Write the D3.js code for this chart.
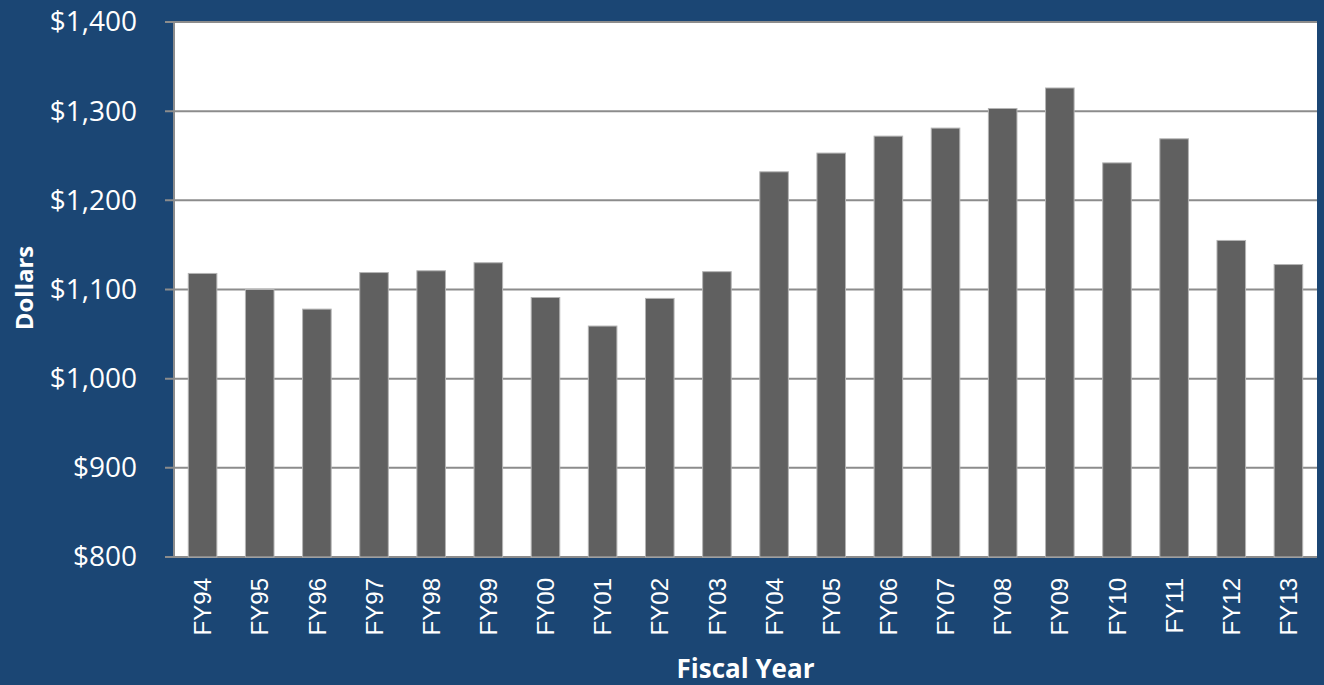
<!DOCTYPE html>
<html lang="en"><head>
<meta charset="utf-8">
<title>Dollars by Fiscal Year</title>
<script src="https://cdn.jsdelivr.net/npm/d3@7"></script>
<style>
  body { margin: 0; background: #1b4674; }
</style>
</head>
<body>
<script type="text/javascript">

var width = 1324;
var height = 685;

// data
var years = ["FY94", "FY95", "FY96", "FY97", "FY98", "FY99", "FY00", "FY01", "FY02", "FY03",
             "FY04", "FY05", "FY06", "FY07", "FY08", "FY09", "FY10", "FY11", "FY12", "FY13"];
var dollars = [1118, 1100, 1078, 1119, 1121, 1130, 1091, 1059, 1090, 1120,
               1232, 1253, 1272, 1281, 1303, 1326, 1242, 1269, 1155, 1128];
var yTicks = [800, 900, 1000, 1100, 1200, 1300, 1400];

var margin = {top: 22, right: 7, bottom: 128, left: 174};

var svg = d3.select("body").append("svg")
            .attr("width", width)
            .attr("height", height)
            .style("display", "block");

svg.append("rect")
    .attr("width", width)
    .attr("height", height)
    .attr("fill", "#1b4674");

var x = d3.scaleBand()
    .domain(years)
    .range([margin.left, width - margin.right])
    .paddingInner(0.5)
    .paddingOuter(0.25);

var y = d3.scaleLinear()
    .domain([800, 1400])
    .range([height - margin.bottom, margin.top]);

// plot area
svg.append("rect")
    .attr("x", margin.left)
    .attr("y", margin.top)
    .attr("width", width - margin.right - margin.left)
    .attr("height", height - margin.bottom - margin.top)
    .attr("fill", "#ffffff");

// gridlines
svg.append("g")
    .selectAll("line")
    .data(yTicks)
    .enter()
    .append("line")
    .attr("x1", margin.left - 9)
    .attr("x2", width - margin.right)
    .attr("y1", (d) => y(d))
    .attr("y2", (d) => y(d))
    .attr("stroke", "#8c8c8c")
    .attr("stroke-width", 2);

// bars
svg.append("g")
    .selectAll("rect")
    .data(dollars)
    .enter()
    .append("rect")
    .attr("x", (d, i) => x(years[i]))
    .attr("y", (d) => y(d))
    .attr("width", x.bandwidth())
    .attr("height", (d) => y(800) - y(d))
    .attr("fill", "#606060")
    .attr("stroke", "#b4b4b4")
    .attr("stroke-width", 1);

// left axis line
svg.append("line")
    .attr("x1", margin.left)
    .attr("x2", margin.left)
    .attr("y1", margin.top)
    .attr("y2", height - margin.bottom)
    .attr("stroke", "#8c8c8c")
    .attr("stroke-width", 2);

// y tick labels
var yAxis = svg.append("g")
    .attr("transform", "translate(" + margin.left + ",0)")
    .call(d3.axisLeft(y).tickValues(yTicks).tickSize(0).tickPadding(37)
        .tickFormat((d) => "$" + d3.format(",")(d)));
yAxis.select(".domain").remove();
yAxis.selectAll("text")
    .attr("fill", "#ffffff")
    .style("font-family", "'Open Sans', sans-serif")
    .style("font-size", "28px");

// x tick labels
var xAxis = svg.append("g")
    .attr("transform", "translate(0," + (height - margin.bottom) + ")")
    .call(d3.axisBottom(x).tickSize(0));
xAxis.select(".domain").remove();
xAxis.selectAll("text")
    .attr("transform", "rotate(-90)")
    .attr("x", -21)
    .attr("y", 0)
    .attr("dy", "0.36em")
    .attr("text-anchor", "end")
    .attr("fill", "#ffffff")
    .style("font-family", "'Liberation Sans', Arial, sans-serif")
    .style("font-size", "24px");

// titles
svg.append("text")
    .attr("transform", "translate(33," + 288 + ") rotate(-90)")
    .attr("text-anchor", "middle")
    .attr("fill", "#ffffff")
    .style("font-family", "'Open Sans', sans-serif")
    .style("font-weight", "bold")
    .style("font-size", "24px")
    .text("Dollars");

svg.append("text")
    .attr("x", (margin.left + width - margin.right) / 2)
    .attr("y", 678)
    .attr("text-anchor", "middle")
    .attr("fill", "#ffffff")
    .style("font-family", "'Open Sans', sans-serif")
    .style("font-weight", "bold")
    .style("font-size", "26px")
    .text("Fiscal Year");

</script>
</body></html>
